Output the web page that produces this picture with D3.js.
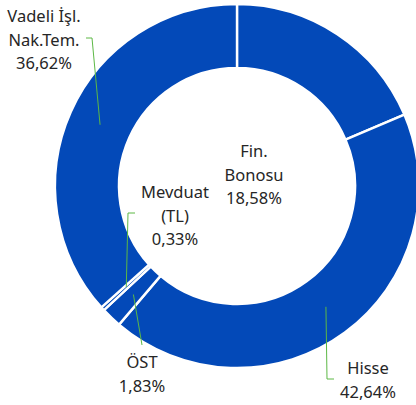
<!DOCTYPE html>
<html>
<head>
<meta charset="utf-8">
<script src="https://cdn.jsdelivr.net/npm/d3@7"></script>
<style>
  body { margin: 0; background: #fff; }
  svg { display: block; }
  .lbl { font-family: "Noto Sans", "Open Sans", sans-serif; font-size: 16.5px; fill: #262626; text-anchor: middle; }
</style>
</head>
<body>
<svg width="416" height="405"></svg>
<script>
// data
const categories = ["Fin. Bonosu", "Hisse", "ÖST", "Mevduat (TL)", "Vadeli İşl. Nak.Tem."];
const values = [18.58, 42.64, 1.83, 0.33, 36.62];
const labelLines = [
    ["Fin.", "Bonosu", "18,58%"],
    ["Hisse", "42,64%"],
    ["ÖST", "1,83%"],
    ["Mevduat", "(TL)", "0,33%"],
    ["Vadeli İşl.", "Nak.Tem.", "36,62%"]
];

window.addEventListener('load', () => {
    const svg = d3.select("svg"),
        cx = 237, cy = 186,
        outerR = 182, innerR = 118,
        lineH = 23.5;

    // label layout: text baseline of first line, and leader elbow points
    const labelPos = [
        { x: 254, y: 157, leader: null },
        { x: 368, y: 374, leader: [[327, 379], [334, 379]] },
        { x: 142, y: 368, leader: [[142, 345]] },
        { x: 175, y: 198, leader: [[128, 213], [135, 213]] },
        { x: 44, y: 22, leader: [[92, 38], [86, 38]] }
    ];

    const pie = d3.pie().sort(null).value(d => d);
    const arcs = pie(values);
    const arc = d3.arc().innerRadius(innerR).outerRadius(outerR);

    const g = svg.append("g").attr("transform", `translate(${cx},${cy})`);

    g.selectAll("path.slice")
        .data(arcs)
        .enter().append("path")
        .attr("class", "slice")
        .attr("d", arc)
        .attr("fill", "#0349b8")
        .attr("stroke", "#fff")
        .attr("stroke-width", 2.4)
        .attr("stroke-linejoin", "miter");

    // leader lines, starting at each slice centroid
    arcs.forEach((a, i) => {
        const pos = labelPos[i];
        if (!pos.leader) return;
        const c = arc.centroid(a);
        const pts = [[c[0] + cx, c[1] + cy]].concat(pos.leader);
        svg.append("path")
            .attr("d", d3.line()(pts))
            .attr("fill", "none")
            .attr("stroke", "#5cb845")
            .attr("stroke-width", 1);
    });

    // labels
    labelLines.forEach((lines, i) => {
        const pos = labelPos[i];
        const t = svg.append("text")
            .attr("class", "lbl")
            .attr("x", pos.x)
            .attr("y", pos.y);
        lines.forEach((s, j) => {
            t.append("tspan")
                .attr("x", pos.x)
                .attr("y", pos.y + j * lineH)
                .text(s);
        });
    });
});
</script>
</body>
</html>
